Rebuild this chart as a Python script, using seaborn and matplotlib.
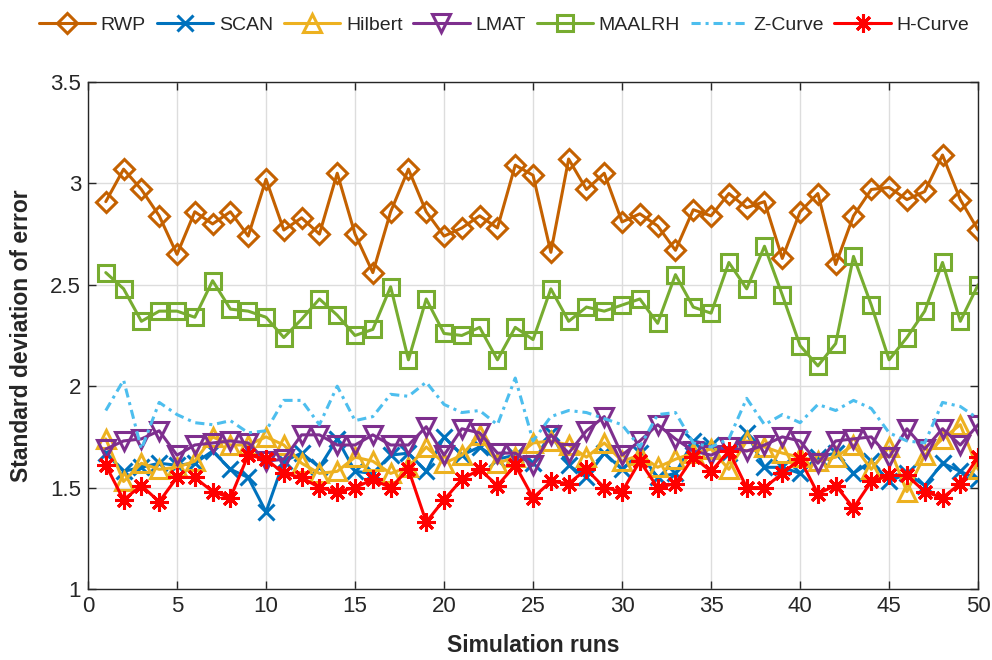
import numpy as np
import pandas as pd
import matplotlib
matplotlib.use("Agg")
import matplotlib.pyplot as plt
import seaborn as sns

runs = list(range(1, 51))

rwp = [2.91, 3.07, 2.97, 2.84, 2.65, 2.86, 2.80, 2.86, 2.74, 3.02,
       2.77, 2.83, 2.75, 3.05, 2.75, 2.56, 2.86, 3.07, 2.86, 2.74,
       2.78, 2.84, 2.78, 3.09, 3.04, 2.66, 3.12, 2.97, 3.05, 2.81,
       2.85, 2.79, 2.67, 2.87, 2.84, 2.95, 2.88, 2.91, 2.63, 2.86,
       2.95, 2.60, 2.84, 2.97, 2.98, 2.92, 2.96, 3.14, 2.92, 2.77]

scan = [1.67, 1.58, 1.60, 1.62, 1.61, 1.62, 1.68, 1.59, 1.55, 1.38,
        1.63, 1.67, 1.60, 1.74, 1.58, 1.57, 1.66, 1.67, 1.58, 1.75,
        1.66, 1.70, 1.64, 1.66, 1.62, 1.77, 1.61, 1.55, 1.67, 1.59,
        1.67, 1.55, 1.57, 1.73, 1.71, 1.67, 1.77, 1.60, 1.60, 1.57,
        1.65, 1.67, 1.57, 1.63, 1.53, 1.57, 1.51, 1.62, 1.58, 1.54]

hilbert = [1.74, 1.53, 1.62, 1.59, 1.60, 1.63, 1.75, 1.71, 1.71, 1.75,
           1.71, 1.62, 1.57, 1.58, 1.65, 1.63, 1.57, 1.60, 1.70, 1.62,
           1.66, 1.76, 1.62, 1.65, 1.72, 1.73, 1.71, 1.65, 1.72, 1.63,
           1.66, 1.60, 1.64, 1.67, 1.69, 1.59, 1.73, 1.70, 1.67, 1.65,
           1.63, 1.65, 1.71, 1.59, 1.70, 1.48, 1.66, 1.74, 1.81, 1.59]

lmat = [1.69, 1.73, 1.74, 1.78, 1.66, 1.71, 1.72, 1.73, 1.72, 1.63,
        1.64, 1.76, 1.76, 1.71, 1.71, 1.76, 1.71, 1.71, 1.80, 1.66,
        1.79, 1.77, 1.67, 1.67, 1.61, 1.76, 1.67, 1.78, 1.85, 1.66,
        1.73, 1.81, 1.74, 1.68, 1.66, 1.70, 1.68, 1.71, 1.75, 1.73,
        1.62, 1.73, 1.74, 1.75, 1.65, 1.79, 1.69, 1.79, 1.71, 1.81]

maalrh = [2.56, 2.48, 2.32, 2.37, 2.37, 2.34, 2.52, 2.38, 2.37, 2.34,
          2.24, 2.33, 2.43, 2.35, 2.25, 2.28, 2.49, 2.13, 2.43, 2.26,
          2.25, 2.29, 2.13, 2.29, 2.23, 2.48, 2.32, 2.39, 2.37, 2.40,
          2.43, 2.31, 2.55, 2.39, 2.36, 2.61, 2.48, 2.69, 2.45, 2.20,
          2.10, 2.21, 2.64, 2.40, 2.13, 2.24, 2.37, 2.61, 2.32, 2.50]

zcurve = [1.88, 2.03, 1.69, 1.92, 1.86, 1.82, 1.81, 1.83, 1.77, 1.78,
          1.93, 1.93, 1.81, 2.00, 1.83, 1.85, 1.96, 1.95, 2.02, 1.91,
          1.87, 1.88, 1.81, 2.04, 1.73, 1.85, 1.88, 1.87, 1.84, 1.81,
          1.70, 1.86, 1.87, 1.72, 1.70, 1.74, 1.94, 1.81, 1.86, 1.82,
          1.91, 1.88, 1.93, 1.89, 1.77, 1.73, 1.72, 1.92, 1.90, 1.84]

hcurve = [1.61, 1.44, 1.51, 1.43, 1.55, 1.55, 1.48, 1.45, 1.66, 1.64,
          1.57, 1.55, 1.50, 1.48, 1.50, 1.54, 1.50, 1.59, 1.33, 1.44,
          1.54, 1.59, 1.51, 1.61, 1.45, 1.53, 1.52, 1.59, 1.50, 1.48,
          1.63, 1.50, 1.52, 1.65, 1.58, 1.68, 1.50, 1.50, 1.57, 1.64,
          1.47, 1.51, 1.40, 1.53, 1.56, 1.56, 1.48, 1.45, 1.52, 1.65]

x_ticks = [0, 5, 10, 15, 20, 25, 30, 35, 40, 45, 50]
y_ticks = [1, 1.5, 2, 2.5, 3, 3.5]
y_tick_labels = ["1", "1.5", "2", "2.5", "3", "3.5"]

series = [
    ("RWP", rwp, dict(color="#C46100", marker="D", markersize=10, linestyle="-")),
    ("SCAN", scan, dict(color="#0072BD", marker="x", markersize=11, linestyle="-")),
    ("Hilbert", hilbert, dict(color="#EDB120", marker="^", markersize=13, linestyle="-")),
    ("LMAT", lmat, dict(color="#7E2F8E", marker="v", markersize=13, linestyle="-")),
    ("MAALRH", maalrh, dict(color="#77AC30", marker="s", markersize=11, linestyle="-")),
    ("Z-Curve", zcurve, dict(color="#4DBEEE", marker=None, markersize=0, linestyle=(0, (3, 1.6, 1, 1.6)))),
    ("H-Curve", hcurve, dict(color="#FF0000", marker=(8, 2, 0), markersize=13, linestyle="-")),
]

sns.set_theme(style="white")
plt.rcParams["font.family"] = ["Liberation Sans", "DejaVu Sans"]

fig = plt.figure(figsize=(9.92, 6.6), dpi=100)
ax = fig.add_axes([0.0887, 0.1076, 0.8973, 0.7682])

for name, vals, st in series:
    df = pd.DataFrame({"run": runs, "val": vals})
    kw = dict(color=st["color"], linewidth=2.2, linestyle=st["linestyle"], label=name)
    if st["marker"] is not None:
        kw.update(marker=st["marker"], markersize=st["markersize"],
                  markerfacecolor="none", markeredgecolor=st["color"],
                  markeredgewidth=2.2)
    sns.lineplot(data=df, x="run", y="val", ax=ax, **kw)

ax.set_xlim(0, 50)
ax.set_ylim(1, 3.5)
ax.set_xticks(x_ticks)
ax.set_yticks(y_ticks)
ax.set_yticklabels(y_tick_labels)
ax.grid(True, color="#DDDDDD", linewidth=1.0)
ax.set_axisbelow(True)
for sp in ax.spines.values():
    sp.set_visible(True)
    sp.set_color("#262626")
    sp.set_linewidth(1.0)
ax.tick_params(axis="both", direction="in", length=6, width=1.0, colors="#262626",
               labelsize=16, labelcolor="#262626", pad=5, top=True, right=True,
               bottom=True, left=True)
ax.set_xlabel("Simulation runs", fontsize=16.5, fontweight="bold", labelpad=12)
ax.set_ylabel("Standard deviation of error", fontsize=16.5, fontweight="bold", labelpad=12)

handles, labels = ax.get_legend_handles_labels()
if ax.get_legend() is not None:
    ax.get_legend().remove()
fig.legend(handles, labels, loc="center", bbox_to_anchor=(0.508, 0.962), ncol=7,
           frameon=False, fontsize=14, handlelength=2.9, handletextpad=0.3,
           columnspacing=0.55)

fig.savefig("out.png", dpi=100)
